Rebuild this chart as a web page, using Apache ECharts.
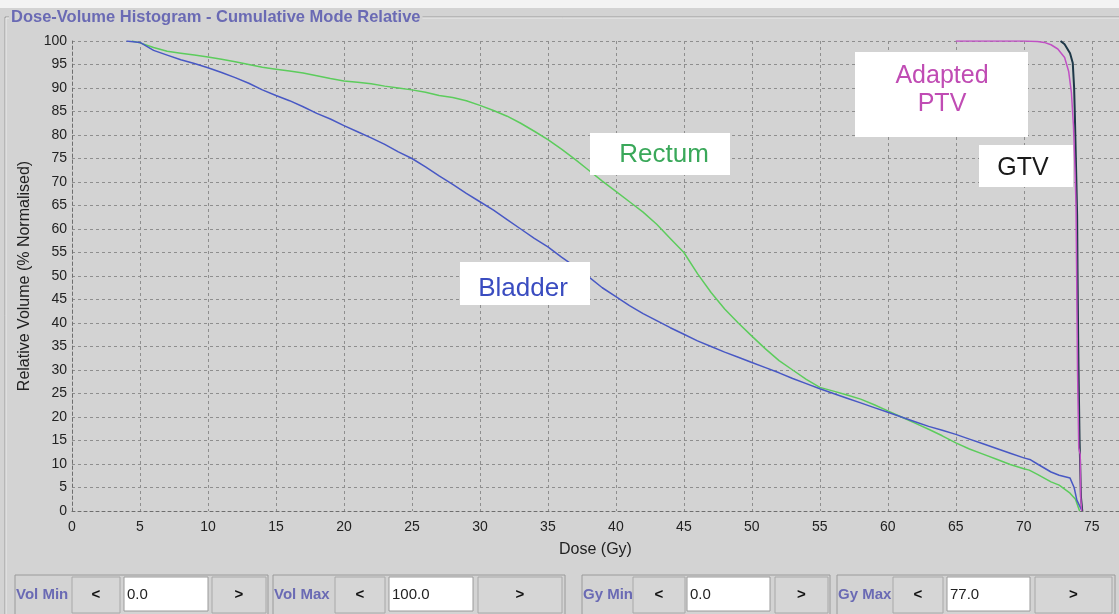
<!DOCTYPE html>
<html><head><meta charset="utf-8">
<script src="https://cdn.jsdelivr.net/npm/echarts@6/dist/echarts.min.js"></script>
<style>html,body{margin:0;padding:0;background:#d3d3d3}#c{width:1119px;height:614px}</style>
</head><body><div id="c"></div>
<script>
// ---- data (Dose Gy, Relative volume %) ----
const xTicks = [0,5,10,15,20,25,30,35,40,45,50,55,60,65,70,75];
const bladder = [[4.0,100],[5,99.7],[6,98],[7,97],[8,96],[9,95.2],[10,94.3],[11,93.3],[12,92.2],[13,91],[14,89.6],[15,88.4],[16,87.3],[17,86],[18,84.6],[19,83.4],[20,82],[21,80.7],[22,79.4],[23,78],[24,76.4],[25,75],[26,73.2],[27,71.3],[28,69.5],[29,67.6],[30,65.8],[31,64],[32,62],[33,60],[34,58],[35,56.2],[36,54],[37,52],[38,49.8],[39,47.5],[40,45.6],[41,43.7],[42,42],[43,40.5],[44,39],[45,37.6],[46,36.2],[47,35],[48,33.8],[49,32.7],[50,31.6],[51,30.5],[52,29.4],[53,28.2],[54,27.1],[55,26],[56,25],[57,24],[58,23],[59,22],[60,21],[61,20],[62,19],[63,18],[64,17.2],[65,16.3],[66,15.3],[67,14.3],[68,13.3],[69,12.3],[70,11.3],[70.5,10.9],[71,10],[72,8.3],[72.6,7.6],[73.4,7],[73.7,5],[73.9,2.3],[74.2,0.5],[74.3,0]];
const rectum = [[4.4,100],[5,99.6],[6,98.6],[7,97.8],[8,97.4],[9,97],[10,96.6],[11,96.1],[12,95.6],[13,95],[14,94.4],[15,94],[16,93.6],[17,93.2],[18,92.6],[19,92],[20,91.5],[21,91.2],[22,90.9],[23,90.4],[24,90],[25,89.6],[26,89.1],[27,88.4],[28,88],[29,87.3],[30,86.3],[31,85.2],[32,84],[33,82.5],[34,80.8],[35,79],[36,77],[37,74.8],[38,72.5],[39,70.2],[40,68],[41,65.8],[42,63.6],[43,61],[44,58],[45,55],[46,50.5],[47,46.5],[48,43],[49,40],[50,37.2],[51,34.5],[52,32],[53,30],[54,28],[55,26.3],[56,25.5],[57,24.7],[58,23.8],[59,22.6],[60,21.3],[61,20],[62,18.7],[63,17.4],[64,16],[65,14.5],[66,13.2],[67,12.1],[68,11],[69,9.9],[70,9],[70.4,8.7],[71,7.8],[72,6.2],[72.6,5.5],[73.4,3.8],[73.8,2.5],[74.1,0]];
const gtv = [[72.7,100],[73.0,99.3],[73.4,97.4],[73.6,95.3],[73.7,90],[73.75,84.7],[73.85,72],[73.92,63],[73.95,51],[74.0,36],[74.02,31],[74.1,15],[74.2,3],[74.3,0]];
const adaptedPTV = [[65,100],[68,100],[70,100],[71,99.9],[71.5,99.7],[72,99.2],[72.5,98.3],[73,96.5],[73.3,93.5],[73.5,89],[73.65,82],[73.75,74],[73.84,65],[73.95,30],[74.04,13.4],[74.15,12],[74.18,3],[74.26,0]];
const controlLabels = ['Vol Min','Vol Max','Gy Min','Gy Max'];
const controlValues = ['0.0','100.0','0.0','77.0'];

const FONT = 'Liberation Sans, Arial, sans-serif';
const chart = echarts.init(document.getElementById('c'), null, {renderer:'canvas'});

// ---- decorations: frame, label boxes, control panel ----
const g = [];
g.push({type:'rect', shape:{x:0,y:0,width:1119,height:8}, style:{fill:'#f3f3f3'}, z:0});
g.push({type:'polyline', shape:{points:[[1119,17],[5,17],[5,614]]}, style:{stroke:'#9a9a9a', fill:null, lineWidth:1}, z:0});
g.push({type:'polyline', shape:{points:[[1119,18],[6,18],[6,614]]}, style:{stroke:'#ececec', fill:null, lineWidth:1}, z:0});

function labelBox(x,y,w,h,lines,color,cx,cy,lh,fs){
  g.push({type:'rect', shape:{x:x,y:y,width:w,height:h}, style:{fill:'#ffffff'}, z:100});
  g.push({type:'text', x:cx, y:cy, style:{text:lines, fill:color, font:fs+'px '+FONT, textAlign:'center', textVerticalAlign:'middle', lineHeight:lh}, z:101});
}
labelBox(460,262,130,43,'Bladder','#3a4cc0',523,289,28,26);
labelBox(590,133,140,42,'Rectum','#3aa85a',664,155,28,26);
labelBox(855,52,173,85,'Adapted\nPTV','#c04cb4',942,90,28,25);
labelBox(979,145,94,42,'GTV','#1a1a1a',1023,168,28,25);

// control groups: [groupX, groupW, ltX, ltW, fieldX, fieldW, gtX, gtW]
const layout = [[15,253,72,48,124,84,212,54],[273,292,335,50,389,84,478,84],[582,248,633,52,687,83,775,53],[837,278,893,50,947,83,1035,77]];
const panelTop = 575;
layout.forEach((L,i)=>{
  g.push({type:'rect', shape:{x:L[0],y:panelTop,width:L[1],height:40}, style:{fill:'#d3d3d3', stroke:'#9a9a9a', lineWidth:1}, z:0});
  g.push({type:'text', x:L[0]+1, y:panelTop+20, style:{text:controlLabels[i], fill:'#6a6ab4', font:'bold 15px '+FONT, textVerticalAlign:'middle'}, z:1});
  [[L[2],L[3],'<'],[L[6],L[7],'>']].forEach(b=>{
    g.push({type:'rect', shape:{x:b[0],y:panelTop+2,width:b[1],height:36}, style:{fill:'#d6d6d6', stroke:'#a8a8a8', lineWidth:1}, z:1});
    g.push({type:'text', x:b[0]+b[1]/2, y:panelTop+20, style:{text:b[2], fill:'#111', font:'bold 15px '+FONT, textAlign:'center', textVerticalAlign:'middle'}, z:2});
  });
  g.push({type:'rect', shape:{x:L[4],y:panelTop+2,width:L[5],height:34}, style:{fill:'#ffffff', stroke:'#9a9a9a', lineWidth:1}, z:1});
  g.push({type:'text', x:L[4]+3, y:panelTop+20, style:{text:controlValues[i], fill:'#222', font:'15px '+FONT, textVerticalAlign:'middle'}, z:2});
});

const gridStyle = {type:[3,3], color:'#8e8e8e', width:1};
const mk = (name,data,color,w,z)=>({name:name,type:'line',data:data,showSymbol:false,symbol:'none',z:z,lineStyle:{color:color,width:w},itemStyle:{color:color}});

chart.setOption({
  animation:false,
  backgroundColor:'#d3d3d3',
  title:{text:'Dose-Volume Histogram - Cumulative Mode Relative', left:9, top:9, padding:[0,2],
    backgroundColor:'#d3d3d3', textStyle:{fontFamily:FONT, fontWeight:'bold', fontSize:16.5, color:'#6a6ab4'}},
  grid:{left:72, top:41, right:0, bottom:103},
  xAxis:{type:'value', min:0, max:77, interval:5,
    name:'Dose (Gy)', nameLocation:'middle', nameGap:31,
    nameTextStyle:{fontFamily:FONT, fontSize:16, color:'#222'},
    axisLine:{lineStyle:{type:[3,3], color:'#6e6e6e'}}, axisTick:{show:false},
    axisLabel:{fontFamily:FONT, fontSize:14, color:'#222', margin:9, showMaxLabel:false,
      formatter:v=>xTicks.indexOf(v)>=0?String(v):''},
    splitLine:{show:true, lineStyle:gridStyle}},
  yAxis:{type:'value', min:0, max:100, interval:5,
    name:'Relative Volume (% Normalised)', nameLocation:'middle', nameGap:33,
    nameTextStyle:{fontFamily:FONT, fontSize:16, color:'#222'},
    axisLine:{show:true, lineStyle:{type:[3,3], color:'#6e6e6e'}}, axisTick:{show:false},
    axisLabel:{fontFamily:FONT, fontSize:14, color:'#222', margin:5},
    splitLine:{show:true, lineStyle:gridStyle}},
  series:[
    mk('Rectum',rectum,'#5ccc5c',1.5,3),
    mk('Bladder',bladder,'#4858c4',1.5,4),
    mk('GTV',gtv,'#1e3848',2,5),
    mk('Adapted PTV',adaptedPTV,'#c050c4',1.5,6)
  ],
  graphic:g
});
</script></body></html>
